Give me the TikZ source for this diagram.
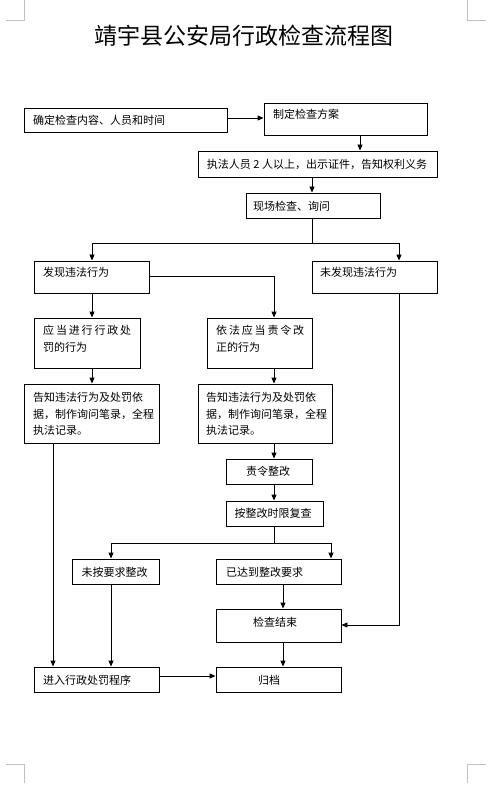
\documentclass[tikz,border=0pt]{standalone}
\usepackage{fontspec}
\newfontfamily\cjk{Noto Sans CJK SC}
\usetikzlibrary{arrows.meta,fit}
\begin{document}
\begin{tikzpicture}[x=1pt,y=-1pt,
  box/.style={draw,line width=0.9pt,inner sep=0pt},
  txt/.style={inner sep=0pt,font=\cjk\fontsize{11}{16.7}\selectfont,align=left},
  conn/.style={line width=0.9pt},
  arr/.style={conn,-{Triangle[length=6pt,width=5pt]}},
  cornermark/.style={draw=black!25,line width=0.7pt}]
\useasboundingbox (0,0) rectangle (491,791);
% page corner marks
\draw[cornermark] (6,20) -- (24,20) -- (24,0);
\draw[cornermark] (486,20) -- (467,20) -- (467,0);
\draw[cornermark] (6,764) -- (24,764) -- (24,783);
\draw[cornermark] (486,764) -- (467,764) -- (467,783);
% title
\node[font=\cjk\fontsize{23}{23}\selectfont] (title) at (244,36) {靖宇县公安局行政检查流程图};
% boxes
\node[box,fit={(24,108) (227,132)}] (b1) {};
\node[box,fit={(264,103) (427,135)}] (b2) {};
\node[box,fit={(198,151) (437,177)}] (b3) {};
\node[box,fit={(246,193) (380,218)}] (b4) {};
\node[box,fit={(34,261) (149,293)}] (b5) {};
\node[box,fit={(312,261) (437,293)}] (b6) {};
\node[box,fit={(34,318) (140,368)}] (b7) {};
\node[box,fit={(207,318) (312,368)}] (b8) {};
\node[box,fit={(24,384) (159,443)}] (b9) {};
\node[box,fit={(198,384) (332,443)}] (b10) {};
\node[box,fit={(226,459) (312,484)}] (b11) {};
\node[box,fit={(226,501) (323,526)}] (b12) {};
\node[box,fit={(72,559) (159,584)}] (b13) {};
\node[box,fit={(216,559) (341,584)}] (b14) {};
\node[box,fit={(216,609) (341,642)}] (b15) {};
\node[box,fit={(34,667) (159,692)}] (b16) {};
\node[box,fit={(216,667) (341,692)}] (b17) {};
% texts
\node[txt,anchor=west] (t1) at (33,120) {确定检查内容、人员和时间};
\node[txt,anchor=west] (t2) at (273,114) {制定检查方案};
\node[txt] (t3) at (317,164) {执法人员 2 人以上，出示证件，告知权利义务};
\node[txt,anchor=west] (t4) at (253,206.5) {现场检查、询问};
\node[txt,anchor=west] (t5) at (43,272) {发现违法行为};
\node[txt,anchor=west] (t6) at (320,272) {未发现违法行为};
\node[txt,anchor=west] (t7) at (43,339) {\hbox to 88pt{应\hfill 当\hfill 进\hfill 行\hfill 行\hfill 政\hfill 处}\\罚的行为};
\node[txt,anchor=west] (t8) at (216,339) {\hbox to 88pt{依\hfill 法\hfill 应\hfill 当\hfill 责\hfill 令\hfill 改}\\正的行为};
\node[txt,anchor=west] (t9) at (33,414) {告知违法行为及处罚依\\据，制作询问笔录，全程\\执法记录。};
\node[txt,anchor=west] (t10) at (206,414) {告知违法行为及处罚依\\据，制作询问笔录，全程\\执法记录。};
\node[txt] (t11) at (268,471.5) {责令整改};
\node[txt] (t12) at (273,513.5) {按整改时限复查};
\node[txt] (t13) at (114.5,572) {未按要求整改};
\node[txt,anchor=west] (t14) at (226,572) {已达到整改要求};
\node[txt] (t15) at (275,622) {检查结束};
\node[txt,anchor=west] (t16) at (43,680) {进入行政处罚程序};
\node[txt] (t17) at (269,680) {归档};
% guide coordinates
\coordinate (vA) at (360,0);
\coordinate (vB) at (312,0);
\coordinate (vC) at (92,0);
\coordinate (vD) at (399,0);
\coordinate (vE) at (274,0);
\coordinate (vF) at (111,0);
\coordinate (vG) at (331,0);
\coordinate (vH) at (53,0);
\coordinate (vI) at (283,0);
\coordinate (hA) at (0,243);
\coordinate (hB) at (0,543);
\coordinate (hC) at (0,676);
\coordinate (hD) at (0,625);
\coordinate (hE) at (0,276);
\coordinate (hF) at (0,118);
% connectors
\draw[arr] (b1.east |- hF) -- (b2.west |- hF);
\draw[arr] (b2.south -| vA) -- (b3.north -| vA);
\draw[arr] (b3.south -| vB) -- (b4.north -| vB);
\draw[conn] (b4.south -| vB) -- (vB |- hA);
\draw[arr] (vB |- hA) -| (b5.north -| vC);
\draw[arr] (vB |- hA) -| (b6.north -| vD);
\draw[arr] (b5.east |- hE) -| (b8.north -| vE);
\draw[arr] (b5.south -| vC) -- (b7.north -| vC);
\draw[arr] (b7.south -| vC) -- (b9.north -| vC);
\draw[arr] (b8.south -| vE) -- (b10.north -| vE);
\draw[arr] (b10.south -| vE) -- (b11.north -| vE);
\draw[arr] (b11.south -| vE) -- (b12.north -| vE);
\draw[conn] (b12.south -| vE) -- (vE |- hB);
\draw[arr] (vE |- hB) -| (b13.north -| vF);
\draw[arr] (vE |- hB) -| (b14.north -| vG);
\draw[arr] (b9.south -| vH) -- (b16.north -| vH);
\draw[arr] (b13.south -| vF) -- (b16.north -| vF);
\draw[arr] (b14.south -| vI) -- (b15.north -| vI);
\draw[arr] (b6.south -| vD) |- (b15.east |- hD);
\draw[arr] (b15.south -| vI) -- (b17.north -| vI);
\draw[arr] (b16.east |- hC) -- (b17.west |- hC);
\end{tikzpicture}
\end{document}
